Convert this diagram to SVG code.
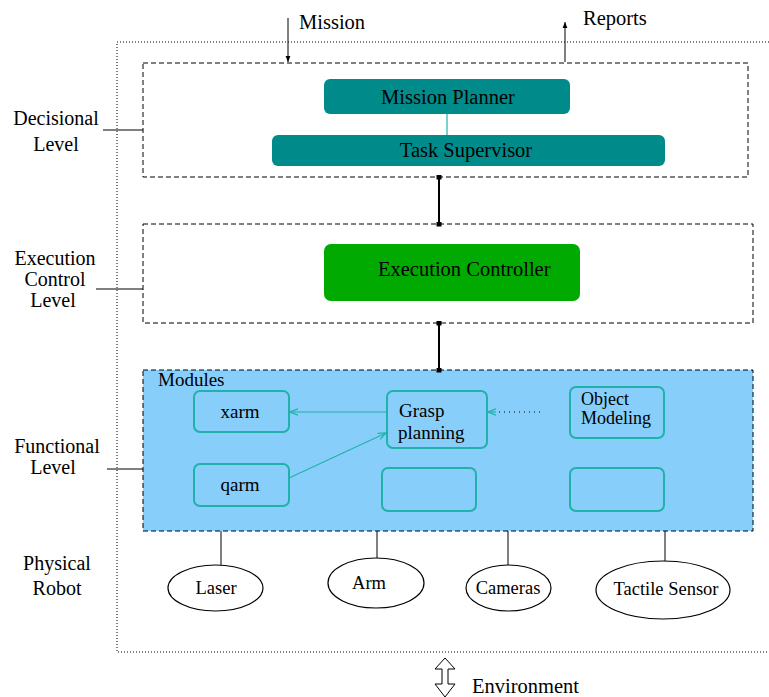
<svg xmlns="http://www.w3.org/2000/svg" width="769" height="697" viewBox="0 0 769 697">
<style>
text{font-family:"Liberation Serif","Times New Roman",serif;fill:#000}
.lbl{font-size:20px;text-anchor:middle}
.t{font-size:20.5px}
.m{font-size:19px}
.s{font-size:18px}
.e{font-size:18.5px;text-anchor:middle}
.lvl{fill:none;stroke:#000;stroke-width:1;stroke-dasharray:5,3}
.mod{fill:none;stroke:#20b2aa;stroke-width:2}
.ell{fill:#fff;stroke:#000;stroke-width:1.2}
.ln{stroke:#000;stroke-width:1;fill:none}
.cl{stroke:#20b2aa;stroke-width:1.2;fill:none}
</style>
<defs>
<marker id="open" viewBox="0 0 10 10" refX="10" refY="5" markerWidth="8" markerHeight="8" markerUnits="userSpaceOnUse" orient="auto">
<path d="M0,1 L10,5 L0,9" fill="none" stroke="#20b2aa" stroke-width="1.5"/>
</marker>
<marker id="blk" viewBox="0 0 10 10" refX="10" refY="5" markerWidth="6" markerHeight="6" markerUnits="userSpaceOnUse" orient="auto">
<path d="M0,1 L10,5 L0,9 Z" fill="#000"/>
</marker>
<marker id="sq" viewBox="0 0 10 10" refX="5" refY="5" markerWidth="5" markerHeight="7" markerUnits="userSpaceOnUse" orient="auto">
<rect x="0" y="0" width="10" height="10" fill="#000"/>
</marker>
</defs>
<rect width="769" height="697" fill="#fff"/>

<!-- outer physical boundary -->
<path d="M769,42 H117 V652 H769" fill="none" stroke="#000" stroke-width="1" stroke-dasharray="1,2"/>

<!-- level frames -->
<g id="decisional-level">
<rect class="lvl" x="143" y="63" width="605" height="114"/>
<text class="lbl" x="56" y="125">Decisional</text>
<text class="lbl" x="56" y="151">Level</text>
</g>
<g id="execution-level">
<rect class="lvl" x="143" y="224" width="610" height="99"/>
<text class="lbl" x="55" y="265">Execution</text>
<text class="lbl" x="55" y="286">Control</text>
<text class="lbl" x="53" y="307">Level</text>
</g>
<g id="functional-level">
<rect x="143" y="370" width="610" height="161" fill="#87cefa" stroke="#000" stroke-width="1" stroke-dasharray="5,3"/>
<text class="m" x="158" y="386">Modules</text>
<text class="lbl" x="57" y="453">Functional</text>
<text class="lbl" x="53" y="474">Level</text>
</g>
<g id="physical-level">
<text class="lbl" x="57" y="570">Physical</text>
<text class="lbl" x="57" y="595">Robot</text>
</g>

<!-- decisional nodes -->
<g id="mission-planner">
<rect x="324" y="79" width="246" height="35" rx="6" fill="#008b8b"/>
<text class="t" x="448" y="104" text-anchor="middle">Mission  Planner</text>
</g>
<g id="task-supervisor">
<rect x="272" y="135" width="393" height="31" rx="6" fill="#008b8b"/>
<text class="t" x="466" y="157" text-anchor="middle">Task Supervisor</text>
</g>
<g id="execution-controller">
<rect x="324" y="244" width="256" height="57" rx="7" fill="#00aa00"/>
<text class="t" x="378" y="276">Execution Controller</text>
</g>

<!-- modules -->
<g id="xarm">
<rect class="mod" x="194" y="391" width="95" height="41" rx="6"/>
<text class="m" x="240" y="418" text-anchor="middle">xarm</text>
</g>
<g id="qarm">
<rect class="mod" x="194" y="464" width="95" height="42" rx="6"/>
<text class="m" x="240" y="491" text-anchor="middle">qarm</text>
</g>
<g id="grasp-planning">
<rect class="mod" x="387" y="391" width="100" height="57" rx="6"/>
<text class="m" x="399" y="417">Grasp</text>
<text class="m" x="398" y="439">planning</text>
</g>
<g id="object-modeling">
<rect class="mod" x="570" y="387" width="94" height="51" rx="6"/>
<text class="s" x="581" y="405">Object</text>
<text class="s" x="581" y="424">Modeling</text>
</g>
<g id="module-empty-1">
<rect class="mod" x="382" y="468" width="94" height="43" rx="6"/>
</g>
<g id="module-empty-2">
<rect class="mod" x="570" y="468" width="94" height="43" rx="6"/>
</g>

<!-- physical devices -->
<g id="laser">
<ellipse class="ell" cx="215.5" cy="588" rx="47.5" ry="23"/>
<text class="e" x="216" y="594">Laser</text>
</g>
<g id="arm">
<ellipse class="ell" cx="376" cy="583" rx="48" ry="25"/>
<text class="e" x="369" y="589">Arm</text>
</g>
<g id="cameras">
<ellipse class="ell" cx="508.5" cy="588" rx="42.5" ry="23"/>
<text class="e" x="508" y="594">Cameras</text>
</g>
<g id="tactile-sensor">
<ellipse class="ell" cx="663" cy="590" rx="67" ry="29"/>
<text class="e" x="666" y="595">Tactile Sensor</text>
</g>

<g id="external-labels">
<text class="t" x="299" y="29">Mission</text>
<text class="t" x="583" y="25">Reports</text>
<text class="t" x="472" y="693">Environment</text>
</g>

<!-- connectors -->
<g id="connectors">
<line class="ln" x1="288" y1="18" x2="288" y2="62" stroke="#555" marker-end="url(#blk)"/>
<line class="ln" x1="565" y1="62" x2="565" y2="22" marker-end="url(#blk)"/>
<line x1="447" y1="114" x2="447" y2="135" stroke="#20b2aa" stroke-width="1.2"/>
<line x1="439" y1="177" x2="439" y2="224" stroke="#000" stroke-width="2" marker-start="url(#sq)" marker-end="url(#sq)"/>
<line x1="439" y1="323" x2="439" y2="370" stroke="#000" stroke-width="2" marker-start="url(#sq)" marker-end="url(#sq)"/>
<line class="cl" x1="387" y1="412" x2="290" y2="412" marker-end="url(#open)"/>
<line class="cl" x1="289" y1="478" x2="386" y2="433" marker-end="url(#open)"/>
<line class="cl" x1="496" y1="412" x2="488" y2="412" marker-end="url(#open)"/>
<line x1="499" y1="412" x2="544" y2="412" stroke="#000" stroke-width="1" stroke-dasharray="1,4"/>
<line class="ln" x1="103" y1="130" x2="143" y2="130"/>
<line class="ln" x1="96" y1="289" x2="143" y2="289"/>
<line class="ln" x1="107" y1="469" x2="143" y2="469"/>
<line class="ln" x1="221" y1="531" x2="221" y2="565"/>
<line class="ln" x1="377" y1="531" x2="377" y2="558"/>
<line class="ln" x1="508" y1="531" x2="508" y2="565"/>
<line class="ln" x1="665" y1="531" x2="665" y2="561"/>
<path d="M445,658 L455,669 L448,669 L448,684 L455,684 L445,697 L435,684 L442,684 L442,669 L435,669 Z" fill="#fff" stroke="#000" stroke-width="1"/>
</g>
</svg>
